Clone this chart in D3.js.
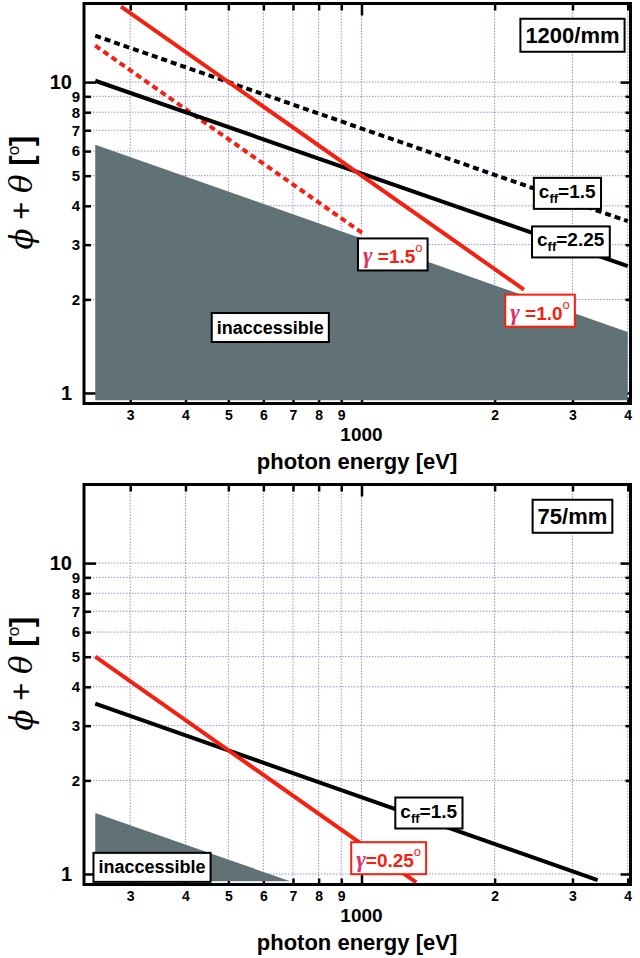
<!DOCTYPE html>
<html><head><meta charset="utf-8">
<script src="https://cdn.jsdelivr.net/npm/d3@7"></script>
<style>body{margin:0;background:#fff}svg{display:block}</style>
</head><body>
<svg id="chart" width="640" height="958"></svg>
<script>
// ---------- data ----------
const xTickValues = [300, 400, 500, 600, 700, 800, 900, 1000, 2000, 3000, 4000];
const xTickLabels = ["3", "4", "5", "6", "7", "8", "9", "", "2", "3", "4"];
const xDecadeLabel = "1000";
const yTickValues = [1, 2, 3, 4, 5, 6, 7, 8, 9, 10];
const yTickLabels = ["1", "2", "3", "4", "5", "6", "7", "8", "9", "10"];
const xTitle = "photon energy [eV]";

// top panel (1200/mm): [energy eV, phi+theta deg]
const topInaccessible = [[250, 6.29], [4000, 1.57]];
const topCff15 = [[250, 14.1], [4000, 3.57]];
const topCff225 = [[250, 10.1], [4000, 2.56]];
const topGamma10 = [[286, 17.5], [2330, 2.15]];
const topGamma15 = [[250, 13.1], [1010, 3.25]];
const topNotes = [
  {kind: "title", text: "1200/mm", at: [3000, 14.2]},
  {kind: "cff", text: "1.5", at: [2919, 4.37]},
  {kind: "cff", text: "2.25", at: [2972, 3.05]},
  {kind: "gamma", text: " =1.5", at: [1177, 2.79], red: false},
  {kind: "gamma", text: " =1.0", at: [2534, 1.84], red: true},
  {kind: "plain", text: "inaccessible", at: [622, 1.63]}
];

// bottom panel (75/mm)
const botInaccessible = [[250, 1.57], [690, 0.947]];
const botCff15 = [[250, 3.53], [3420, 0.955]];
const botGamma025 = [[250, 5.0], [1330, 0.94]];
const botNotes = [
  {kind: "title", text: "75/mm", at: [3000, 14.2]},
  {kind: "cff", text: "1.5", at: [1419, 1.565]},
  {kind: "gamma", text: "=0.25", at: [1152, 1.124], red: true},
  {kind: "plain", text: "inaccessible", at: [336, 1.054]}
];
const floorValue = 0.947;

// ---------- drawing ----------
const RED = "#f5200f";
const GRAY = "#607275";
const GRID = "#8f95d8";
const SANS = "'Liberation Sans', Arial, sans-serif";
const svg = d3.select("#chart");

const x = d3.scaleLog().domain([235.8, 4058]).range([84, 630.5]);

function panel(top, fills, lines, notes) {
  const height = 400;
  const y = d3.scaleLog().domain([0.925, 17.9]).range([top + height, top]);
  const g = svg.append("g");
  const x0 = x.range()[0], x1 = x.range()[1];
  const yb = top + height;

  // grid
  g.append("g").selectAll("line.gx").data(xTickValues).join("line")
    .attr("x1", d => x(d)).attr("x2", d => x(d)).attr("y1", top).attr("y2", yb)
    .attr("stroke", GRID).attr("stroke-width", 1).attr("stroke-dasharray", "1.5,1.5");
  g.append("g").selectAll("line.gy").data(yTickValues).join("line")
    .attr("x1", x0).attr("x2", x1).attr("y1", d => y(d)).attr("y2", d => y(d))
    .attr("stroke", GRID).attr("stroke-width", 1).attr("stroke-dasharray", "1.5,1.5");

  const isMajorY = d => d === 1 || d === 10;
  const isMajorX = d => d === 1000;

  // left axis
  const la = g.append("g").attr("transform", `translate(${x0},0)`)
    .call(d3.axisLeft(y).tickValues(yTickValues).tickFormat((d, i) => yTickLabels[i])
      .tickSizeInner(-7).tickSizeOuter(0).tickPadding(4));
  la.select(".domain").remove();
  la.selectAll(".tick line").attr("stroke", "#000").attr("stroke-width", 2.5)
    .attr("x2", d => isMajorY(d) ? 12 : 7);
  la.selectAll(".tick text").attr("fill", "#000")
    .style("font-family", SANS).style("font-weight", "bold")
    .style("font-size", d => isMajorY(d) ? "20px" : "15px")
    .attr("x", d => isMajorY(d) ? -12 : -4);

  // right axis
  const ra = g.append("g").attr("transform", `translate(${x1},0)`)
    .call(d3.axisRight(y).tickValues(yTickValues).tickFormat("").tickSizeInner(-5).tickSizeOuter(0));
  ra.select(".domain").remove();
  ra.selectAll(".tick line").attr("stroke", "#000").attr("stroke-width", 2.5)
    .attr("x2", d => isMajorY(d) ? -10 : -5);

  // top axis
  const ta = g.append("g").attr("transform", `translate(0,${top})`)
    .call(d3.axisTop(x).tickValues(xTickValues).tickFormat("").tickSizeInner(-7).tickSizeOuter(0));
  ta.select(".domain").remove();
  ta.selectAll(".tick line").attr("stroke", "#000").attr("stroke-width", 2.5)
    .attr("y2", d => isMajorX(d) ? 12 : 7);

  // bottom axis
  const ba = g.append("g").attr("transform", `translate(0,${yb})`)
    .call(d3.axisBottom(x).tickValues(xTickValues).tickFormat((d, i) => xTickLabels[i])
      .tickSizeInner(-6).tickSizeOuter(0).tickPadding(7));
  ba.select(".domain").remove();
  ba.selectAll(".tick line").attr("stroke", "#000").attr("stroke-width", 2.5)
    .attr("y2", d => isMajorX(d) ? -10 : -6);
  ba.selectAll(".tick text").attr("fill", "#000")
    .style("font-family", SANS).style("font-weight", "bold").style("font-size", "14px");

  g.append("text").attr("x", x(1000)).attr("y", yb + 37.5).attr("text-anchor", "middle")
    .style("font-family", SANS).style("font-weight", "bold").style("font-size", "19px")
    .text(xDecadeLabel);
  g.append("text").attr("x", 357).attr("y", yb + 65).attr("text-anchor", "middle")
    .style("font-family", SANS).style("font-weight", "bold").style("font-size", "22px")
    .text(xTitle);

  // y title
  const yt = g.append("text")
    .attr("transform", `translate(32,${top + 189}) rotate(-90)`)
    .attr("text-anchor", "middle")
    .style("font-size", "31px").style("font-family", "'DejaVu Serif', serif");
  yt.append("tspan").style("font-style", "italic").text("\u03d5");
  yt.append("tspan").style("font-family", SANS).text(" + ");
  yt.append("tspan").style("font-style", "italic").text("\u03b8");
  yt.append("tspan").style("font-family", SANS).style("font-weight", "bold").text(" [");
  yt.append("tspan").style("font-family", SANS).style("font-size", "17px").attr("dy", -13).text("o");
  yt.append("tspan").style("font-family", SANS).style("font-weight", "bold").attr("dy", 13).text("]");

  // fills
  const area = pts => {
    const poly = pts.concat([[pts[pts.length - 1][0], floorValue], [pts[0][0], floorValue]]);
    return d3.line().x(d => x(d[0])).y(d => y(d[1]))(poly) + "Z";
  };
  fills.forEach(f => g.append("path").attr("d", area(f)).attr("fill", GRAY));

  // lines
  const ln = d3.line().x(d => x(d[0])).y(d => y(d[1]));
  lines.forEach(l => g.append("path").attr("d", ln(l.pts)).attr("fill", "none")
    .attr("stroke", l.red ? RED : "#000").attr("stroke-width", 4)
    .attr("stroke-dasharray", l.dashed ? "6,4" : null));

  // frame
  g.append("rect").attr("x", x0).attr("y", top).attr("width", x1 - x0).attr("height", height)
    .attr("fill", "none").attr("stroke", "#000").attr("stroke-width", 3);

  // notes
  notes.forEach(n => {
    const gg = g.append("g").attr("transform", `translate(${x(n.at[0])},${y(n.at[1])})`);
    const rect = gg.append("rect");
    const t = gg.append("text").attr("text-anchor", "middle")
      .style("font-family", SANS).style("font-weight", "bold");
    let padX = 5, padY = 4, stroke = "#000";
    if (n.kind === "title") {
      t.attr("y", 8).style("font-size", "22px").text(n.text);
    } else if (n.kind === "plain") {
      t.attr("y", 6.5).style("font-size", "18px").text(n.text);
      padX = 5; padY = 4.5;
    } else if (n.kind === "cff") {
      t.attr("y", 4).style("font-size", "19px");
      t.append("tspan").text("c");
      t.append("tspan").style("font-size", "13px").attr("dy", 5).text("ff");
      t.append("tspan").attr("dy", -5).text("=" + n.text);
      padX = 5; padY = 3;
    } else if (n.kind === "gamma") {
      t.attr("y", 9).style("font-size", "19px").attr("fill", RED);
      t.append("tspan").style("font-family", "'Liberation Serif', serif").style("font-style", "italic")
        .style("font-size", "23px").attr("fill", "#e0306a").text("\u03b3");
      t.append("tspan").text(n.text);
      t.append("tspan").style("font-size", "13px").style("font-weight", "normal").attr("dy", -11).text("o");
      padX = 5; padY = 2;
      if (n.red) stroke = RED;
    }
    const bb = t.node().getBBox();
    rect.attr("x", bb.x - padX).attr("y", bb.y - padY)
      .attr("width", bb.width + 2 * padX).attr("height", bb.height + 2 * padY)
      .attr("fill", "#fff").attr("stroke", stroke).attr("stroke-width", 2);
  });
}

panel(3.5, [topInaccessible], [
  {pts: topCff15, dashed: true},
  {pts: topGamma15, dashed: true, red: true},
  {pts: topCff225},
  {pts: topGamma10, red: true}
], topNotes);

panel(484.5, [botInaccessible], [
  {pts: botCff15},
  {pts: botGamma025, red: true}
], botNotes);
</script>
</body></html>
